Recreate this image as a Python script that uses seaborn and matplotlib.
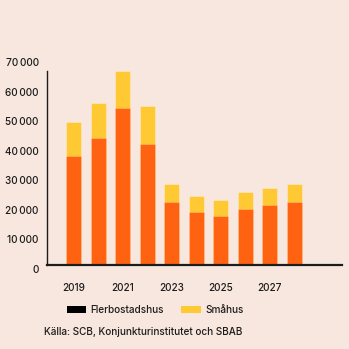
import matplotlib
matplotlib.use("Agg")
import matplotlib.pyplot as plt
import matplotlib.transforms as mtransforms
from matplotlib.patches import Patch
from matplotlib.ticker import FuncFormatter
import pandas as pd
import seaborn as sns

# Påbörjade bostäder per år, fördelat på hustyp
years = [2019, 2020, 2021, 2022, 2023, 2024, 2025, 2026, 2027, 2028]
flerbostadshus = [37000, 43000, 53300, 41000, 21300, 17900, 16500, 18900, 20400, 21400]
smahus = [11500, 11800, 12400, 12800, 6000, 5400, 5500, 5800, 5800, 6100]
tick_years = [2019, 2021, 2023, 2025, 2027]

BG = "#F8E7DE"
ORANGE = "#FF6210"
YELLOW = "#FFC933"
INK = "#1c1c1c"

sns.set_theme(style="white")
plt.rcParams["font.family"] = ["Inter", "DejaVu Sans"]
plt.rcParams["font.size"] = 7.2
plt.rcParams["font.weight"] = "medium"

df = pd.DataFrame({
    "år": [str(y) for y in years],
    "Flerbostadshus": flerbostadshus,
    "Småhus": smahus,
})
df["Totalt"] = df["Flerbostadshus"] + df["Småhus"]

fig = plt.figure(figsize=(3.49, 3.49), dpi=100, facecolor=BG)
ax = fig.add_axes([0.1338, 0.2407, 0.8452, 0.5917])
ax.set_facecolor(BG)

bar_w = 0.61
sns.barplot(data=df, x="år", y="Totalt", color=YELLOW, saturation=1,
            width=bar_w, ax=ax, edgecolor=(1, 1, 1, 0.35), linewidth=0.6)
sns.barplot(data=df, x="år", y="Flerbostadshus", color=ORANGE, saturation=1,
            width=bar_w, ax=ax, edgecolor=(1, 1, 1, 0.25), linewidth=0.6)

ax.set_xlim(-1.1, 10.94)
ax.set_ylim(0, 70000)
ax.set_xlabel("")
ax.set_ylabel("")

ax.set_yticks(range(0, 70001, 10000))
ax.yaxis.set_major_formatter(FuncFormatter(lambda v, p: f"{int(v):,}".replace(",", "\u2009")))
ax.set_xticks([years.index(y) for y in tick_years])
ax.set_xticklabels([str(y) for y in tick_years])

ax.tick_params(axis="both", length=0, colors=INK, labelsize=7.2)
ax.tick_params(axis="y", pad=5.8)
ax.tick_params(axis="x", pad=13)

# y-etiketterna ligger en aning under sina stödlinjer
shift = mtransforms.ScaledTranslation(0, -4 / 100, fig.dpi_scale_trans)
for tick in ax.yaxis.get_major_ticks():
    tick.label1.set_transform(tick.label1.get_transform() + shift)

for side in ("top", "right"):
    ax.spines[side].set_visible(False)
ax.spines["left"].set_color(INK)
ax.spines["left"].set_linewidth(1.0)
ax.spines["left"].set_bounds(0, max(df["Totalt"]))
ax.spines["bottom"].set_color(INK)
ax.spines["bottom"].set_linewidth(1.6)
ax.spines["bottom"].set_zorder(5)

handles = [Patch(facecolor="#000000", edgecolor="none", label="Flerbostadshus"),
           Patch(facecolor=YELLOW, edgecolor="none", label="Småhus")]
fig.legend(handles=handles, loc="center left", bbox_to_anchor=(0.191, 0.1117),
           ncol=2, frameon=False, fontsize=7.2, borderpad=0, borderaxespad=0,
           handlelength=1.95, handleheight=0.75, handletextpad=0.45,
           columnspacing=1.7, labelcolor=INK)

fig.text(0.126, 0.0496, "Källa: SCB, Konjunkturinstitutet och SBAB",
         fontsize=7.2, color=INK, va="center", ha="left")

fig.savefig("out.png", dpi=100, facecolor=BG)
